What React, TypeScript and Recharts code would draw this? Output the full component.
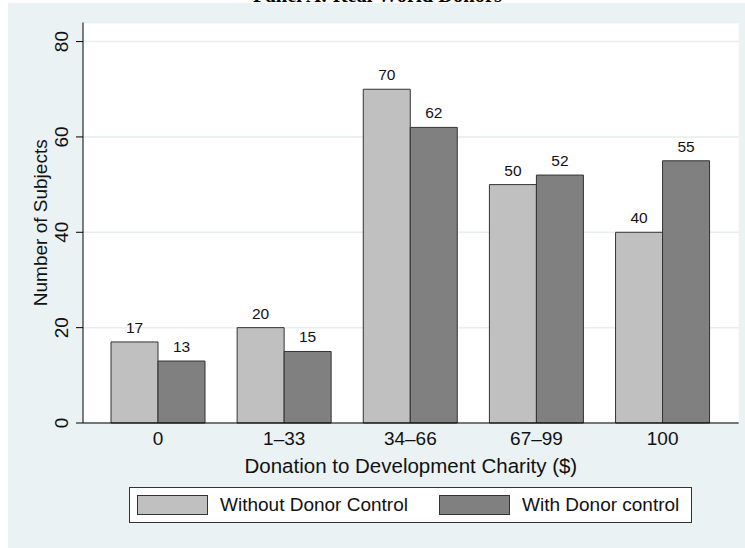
import React from 'react';
import { BarChart, Bar, XAxis, YAxis, CartesianGrid, LabelList, Label } from 'recharts';

const categories = ['0', '1\u201333', '34\u201366', '67\u201399', '100'];
const withoutDonorControl = [17, 20, 70, 50, 40];
const withDonorControl = [13, 15, 62, 52, 55];
const yTicks = [0, 20, 40, 60, 80];
const seriesNames = ['Without Donor Control', 'With Donor control'];
const seriesColors = ['#c0c0c0', '#808080'];

const data = categories.map((c, i) => ({
  cat: c,
  a: withoutDonorControl[i],
  b: withDonorControl[i],
}));

const FONT = '"Liberation Sans", Arial, Helvetica, sans-serif';
const BG = '#eaf2f3';
const STROKE = '#333333';

const XTick = (props: any) => {
  const { x, y, payload } = props;
  return (
    <text x={x} y={y + 15} textAnchor="middle" dominantBaseline="central" fontFamily={FONT} fontSize={19} fill="#111">
      {payload.value}
    </text>
  );
};

const YTick = (props: any) => {
  const { x, y, payload } = props;
  const cx = x - 14.5;
  return (
    <text
      x={cx}
      y={y}
      transform={`rotate(-90, ${cx}, ${y})`}
      textAnchor="middle"
      dominantBaseline="central"
      fontFamily={FONT}
      fontSize={19}
      fill="#111"
    >
      {payload.value}
    </text>
  );
};

const XTitle = (props: any) => {
  const vb = props.viewBox;
  return (
    <text x={vb.x + vb.width / 2} y={vb.y + 42} textAnchor="middle" dominantBaseline="central" fontFamily={FONT} fontSize={20.5} fill="#111">
      Donation to Development Charity ($)
    </text>
  );
};

const YTitle = (props: any) => {
  const vb = props.viewBox;
  const cx = vb.x + 32;
  const cy = vb.y + vb.height / 2;
  return (
    <text x={cx} y={cy} transform={`rotate(-90, ${cx}, ${cy})`} textAnchor="middle" dominantBaseline="central" fontFamily={FONT} fontSize={19} fill="#111">
      Number of Subjects
    </text>
  );
};

export default function App() {
  return (
    <div style={{ position: 'absolute', left: 0, top: 0, width: 745, height: 548, background: '#fff', overflow: 'hidden' }}>
      <svg width={745} height={20} style={{ position: 'absolute', left: 0, top: 0 }}>
        <text x={377.5} y={1.8} textAnchor="middle" fontFamily='"Liberation Serif", "Times New Roman", serif' fontWeight="bold" fontSize={20.5} fill="#000">
          Panel A: Real World Donors
        </text>
      </svg>
      <div style={{ position: 'absolute', left: 8, top: 3, width: 737, height: 545, background: BG }}>
        <BarChart
          width={737}
          height={545}
          data={data}
          margin={{ top: 19.5, right: 6.3, bottom: 0, left: 0 }}
          barGap={0}
          barSize={47}
        >
          <CartesianGrid horizontal vertical={false} fill="#ffffff" stroke="#e6eeee" strokeWidth={1.5} />
          <XAxis
            dataKey="cat"
            interval={0}
            height={125}
            padding={{ left: 12, right: 13 }}
            tickLine={false}
            tickSize={0}
            tickMargin={0}
            axisLine={{ stroke: '#000', strokeWidth: 1 }}
            tick={<XTick />}
          >
            <Label content={<XTitle />} />
          </XAxis>
          <YAxis
            type="number"
            domain={[0, 84]}
            ticks={yTicks}
            width={75}
            tickSize={7}
            tickMargin={0}
            tickLine={{ stroke: '#000' }}
            axisLine={{ stroke: '#000', strokeWidth: 1 }}
            tick={<YTick />}
          >
            <Label content={<YTitle />} />
          </YAxis>
          <Bar dataKey="a" name={seriesNames[0]} fill={seriesColors[0]} stroke={STROKE} strokeWidth={1} isAnimationActive={false}>
            <LabelList dataKey="a" position="top" offset={9} fontFamily={FONT} fontSize={15.5} fill="#111" />
          </Bar>
          <Bar dataKey="b" name={seriesNames[1]} fill={seriesColors[1]} stroke={STROKE} strokeWidth={1} isAnimationActive={false}>
            <LabelList dataKey="b" position="top" offset={9} fontFamily={FONT} fontSize={15.5} fill="#111" />
          </Bar>
        </BarChart>
      </div>
      <div
        style={{
          position: 'absolute',
          left: 129,
          top: 487,
          width: 563,
          height: 35.5,
          boxSizing: 'border-box',
          border: `1px solid ${STROKE}`,
          background: '#fff',
        }}
      >
        {seriesNames.map((name, i) => (
          <React.Fragment key={name}>
            <div
              style={{
                position: 'absolute',
                left: i === 0 ? 7 : 309,
                top: 7,
                width: 71,
                height: 20,
                boxSizing: 'border-box',
                border: `1px solid ${STROKE}`,
                background: seriesColors[i],
              }}
            />
            <div
              style={{
                position: 'absolute',
                left: i === 0 ? 90 : 392,
                top: 0,
                height: 33.5,
                lineHeight: '33.5px',
                fontFamily: FONT,
                fontSize: 19,
                color: '#111',
                whiteSpace: 'nowrap',
              }}
            >
              {name}
            </div>
          </React.Fragment>
        ))}
      </div>
    </div>
  );
}
